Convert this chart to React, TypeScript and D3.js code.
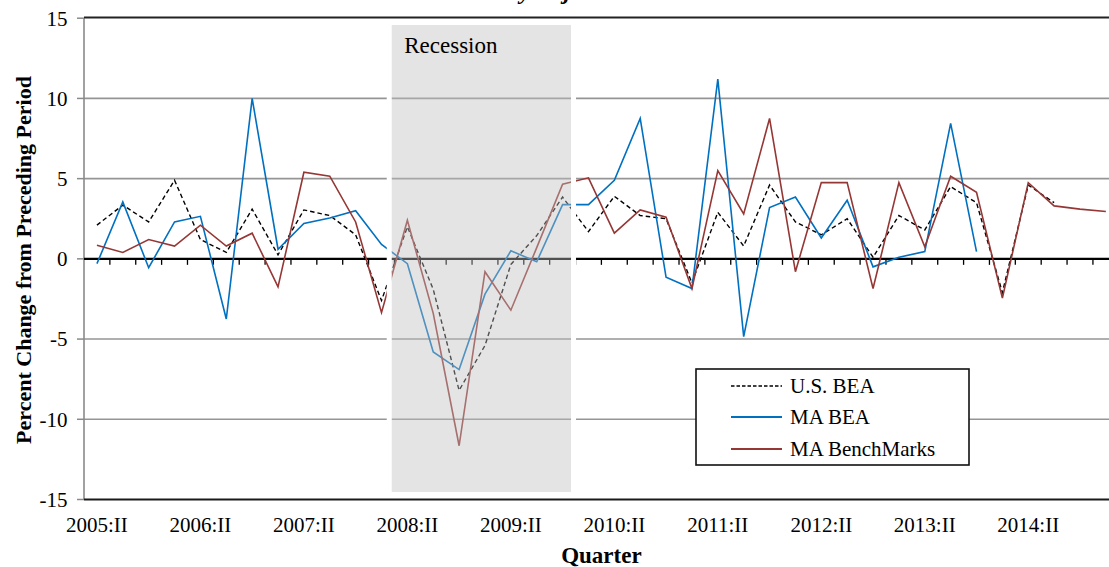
import React from "react";
import * as d3 from "d3";

const quarters = [
  "2005:II", "2005:III", "2005:IV", "2006:I",
  "2006:II", "2006:III", "2006:IV", "2007:I",
  "2007:II", "2007:III", "2007:IV", "2008:I",
  "2008:II", "2008:III", "2008:IV", "2009:I",
  "2009:II", "2009:III", "2009:IV", "2010:I",
  "2010:II", "2010:III", "2010:IV", "2011:I",
  "2011:II", "2011:III", "2011:IV", "2012:I",
  "2012:II", "2012:III", "2012:IV", "2013:I",
  "2013:II", "2013:III", "2013:IV", "2014:I",
  "2014:II", "2014:III", "2014:IV", "2015:I",
];

const usBEA: (number | null)[] = [
  2.1, 3.35, 2.3, 4.9, 1.2, 0.4, 3.1, 0.25,
  3.05, 2.7, 1.5, -2.6, 2.0, -1.9, -8.2, -5.4,
  -0.35, 1.45, 3.85, 1.7, 3.9, 2.7, 2.5, -1.5,
  2.9, 0.8, 4.6, 2.3, 1.5, 2.5, 0.1, 2.7,
  1.8, 4.5, 3.5, -2.1, 4.6, 3.5, null, null,
];

const maBEA: (number | null)[] = [
  -0.3, 3.55, -0.55, 2.3, 2.65, -3.75, 10.0, 0.6,
  2.2, 2.55, 3.0, 0.9, -0.3, -5.8, -6.9, -2.2,
  0.5, -0.18, 3.38, 3.38, 4.9, 8.75, -1.15, -1.85,
  11.2, -4.85, 3.2, 3.85, 1.3, 3.65, -0.5, 0.1,
  0.45, 8.45, 0.45, null, null, null, null, null,
];

const maBenchMarks: (number | null)[] = [
  0.85, 0.4, 1.2, 0.8, 2.1, 0.8, 1.6, -1.75,
  5.4, 5.15, 2.3, -3.35, 2.4, -3.4, -11.65, -0.8,
  -3.2, 0.7, 4.65, 5.05, 1.6, 3.05, 2.6, -1.85,
  5.5, 2.8, 8.75, -0.8, 4.75, 4.75, -1.85, 4.75,
  0.75, 5.15, 4.15, -2.45, 4.75, 3.3, 3.1, 2.95,
];

const yTicks = [-15, -10, -5, 0, 5, 10, 15];
const xTickLabels = [
  "2005:II", "2006:II", "2007:II", "2008:II", "2009:II",
  "2010:II", "2011:II", "2012:II", "2013:II", "2014:II",
];
const seriesNames = ["U.S. BEA", "MA BEA", "MA BenchMarks"];
const seriesColors = ["#000000", "#0070C0", "#953735"];
const recessionSpan = ["2008:II", "2009:IV"];

export default function App() {
  const W = 1109;
  const H = 567;
  const left = 84;
  const right = 1118.8;
  const top = 18.2;
  const bottom = 499.5;
  const serif = "'Liberation Serif', 'Times New Roman', Times, serif";

  const x = d3.scaleBand<string>().domain(quarters).range([left, right]).padding(0);
  const bw = x.bandwidth();
  const cx = (q: string) => (x(q) as number) + bw / 2;
  const y = d3.scaleLinear().domain([-15, 15]).range([bottom, top]);

  const lineGen = d3
    .line<number | null>()
    .defined((d) => d != null)
    .x((_d, i) => cx(quarters[i]))
    .y((d) => y(d as number));

  const series = [usBEA, maBEA, maBenchMarks];

  const recX0 = (x(recessionSpan[0]) as number) - 5.2;
  const recX1 = (x(recessionSpan[1]) as number) + bw - 2;
  const recY0 = y(15) + 4.3;
  const recY1 = y(-15) - 5;

  const boundaries = d3.range(1, quarters.length + 1).map((i) => left + i * bw);

  const legX = 696;
  const legY = 369;
  const legW = 273;
  const legH = 96;
  const legRows = [386, 417, 449];

  return (
    <svg
      width={W}
      height={H}
      style={{ position: "absolute", left: 0, top: 0, background: "#fff" }}
      fontFamily={serif}
    >
      <rect x={0} y={0} width={W} height={H} fill="#fff" />
      {/* partially visible title */}
      <text x={424} y={-1} fontSize={24} fontWeight="bold" fontStyle="italic" fill="#000">
        Seasonally Adjusted
      </text>

      {/* gridlines */}
      {yTicks
        .filter((t) => t !== 0 && t !== 15 && t !== -15)
        .map((t) => (
          <line key={"g" + t} x1={left} x2={right} y1={y(t)} y2={y(t)} stroke="#959595" strokeWidth={1.6} />
        ))}
      {/* y axis ticks */}
      {yTicks.map((t) => (
        <line key={"yt" + t} x1={left - 7} x2={left} y1={y(t)} y2={y(t)} stroke="#8a8a8a" strokeWidth={1.5} />
      ))}
      {/* left axis */}
      <line x1={left} x2={left} y1={top} y2={bottom} stroke="#8a8a8a" strokeWidth={1.6} />
      {/* top and bottom frame */}
      <line x1={left} x2={right} y1={top - 0.6} y2={top - 0.6} stroke="#222" strokeWidth={2} />
      <line x1={left} x2={right} y1={bottom} y2={bottom} stroke="#1a1a1a" strokeWidth={2} />
      {/* zero line + ticks */}
      <line x1={left} x2={right} y1={y(0)} y2={y(0)} stroke="#000" strokeWidth={2.2} />
      {boundaries.map((bx, i) => (
        <line key={"xt" + i} x1={bx} x2={bx} y1={y(0)} y2={y(0) + 6} stroke="#000" strokeWidth={1.3} />
      ))}

      {/* series lines */}
      {series.map((s, k) => (
        <path
          key={"s" + k}
          d={lineGen(s) || ""}
          fill="none"
          stroke={seriesColors[k]}
          strokeWidth={k === 0 ? 1.4 : 1.6}
          strokeDasharray={k === 0 ? "4.5,3" : undefined}
          strokeLinejoin="miter"
        />
      ))}

      {/* recession overlay */}
      <rect
        x={recX0}
        y={recY0}
        width={recX1 - recX0}
        height={recY1 - recY0}
        fill="rgba(190,190,190,0.42)"
        stroke="#fff"
        strokeWidth={5}
      />
      <text x={recX0 + 15} y={52.5} fontSize={23} fill="#000">
        Recession
      </text>

      {/* y tick labels */}
      {yTicks.map((t) => (
        <text key={"yl" + t} x={67.5} y={y(t)} dy="0.35em" textAnchor="end" fontSize={21} fill="#000">
          {t}
        </text>
      ))}
      {/* x tick labels */}
      {xTickLabels.map((q) => (
        <text key={"xl" + q} x={cx(q)} y={532} textAnchor="middle" fontSize={21} fill="#000">
          {q}
        </text>
      ))}

      {/* axis titles */}
      <text
        transform={`translate(31,${(73 + 447) / 2}) rotate(-90)`}
        textAnchor="middle"
        fontSize={22}
        fontWeight="bold"
        fill="#000"
      >
        Percent Change from Preceding Period
      </text>
      <text x={(left + right) / 2} y={563} textAnchor="middle" fontSize={23} fontWeight="bold" fill="#000">
        Quarter
      </text>

      {/* legend */}
      <rect x={legX} y={legY} width={legW} height={legH} fill="#fff" stroke="#111" strokeWidth={1.6} />
      {seriesNames.map((n, k) => (
        <g key={"lg" + k}>
          <line
            x1={731}
            x2={782}
            y1={legRows[k]}
            y2={legRows[k]}
            stroke={seriesColors[k]}
            strokeWidth={k === 0 ? 1.4 : 1.8}
            strokeDasharray={k === 0 ? "3.5,2" : undefined}
          />
          <text x={790} y={legRows[k]} dy="0.35em" fontSize={21} fill="#000">
            {n}
          </text>
        </g>
      ))}
    </svg>
  );
}
